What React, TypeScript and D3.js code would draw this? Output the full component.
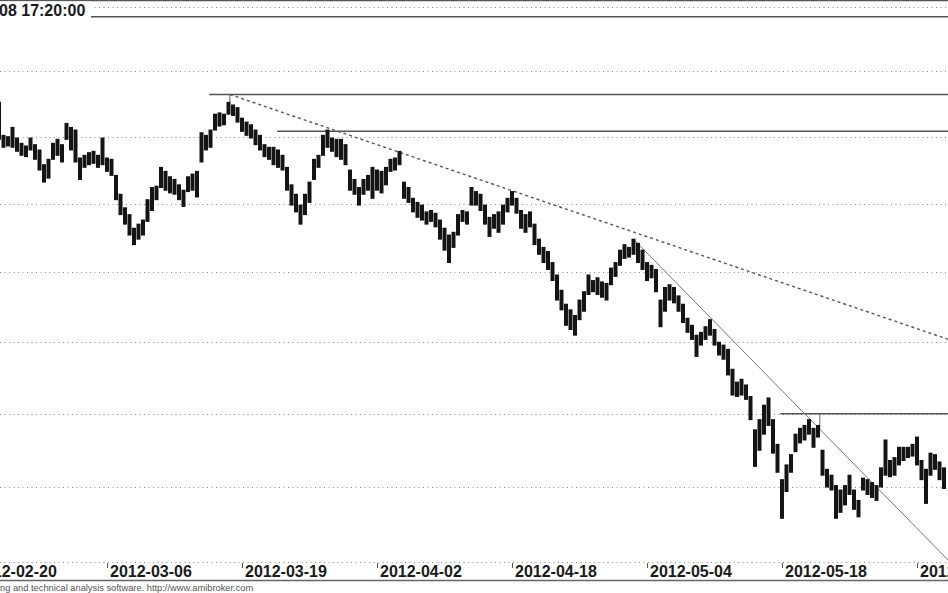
import React from 'react';
import * as d3 from 'd3';

const W = 948;
const H = 593;

// Intraday bars (3 per session), first visible bar index
const FIRST_BAR = 6;
const highs = [
  2426, 2401, 2400, 2407, 2399, 2395, 2393, 2399, 2394, 2390, 2379, 2383, 2395, 2398, 2394, 2410, 2407, 2405, 2384, 2386,
  2388, 2389, 2386, 2399, 2384, 2383, 2371, 2357, 2347, 2342, 2332, 2335, 2338, 2353, 2362, 2363, 2377, 2374, 2370, 2368,
  2364, 2360, 2370, 2372, 2374, 2403, 2401, 2405, 2417, 2418, 2417, 2426, 2424, 2422, 2414, 2411, 2409, 2405, 2401, 2394,
  2392, 2392, 2390, 2386, 2377, 2364, 2357, 2349, 2357, 2366, 2383, 2386, 2401, 2405, 2399, 2398, 2398, 2394, 2375, 2368,
  2362, 2368, 2371, 2377, 2375, 2374, 2377, 2383, 2384, 2389, 2366, 2362, 2354, 2351, 2349, 2344, 2345, 2343, 2338, 2332,
  2327, 2329, 2342, 2345, 2344, 2362, 2359, 2357, 2349, 2340, 2342, 2344, 2349, 2354, 2359, 2354, 2345, 2342, 2344, 2335,
  2324, 2318, 2315, 2307, 2298, 2287, 2277, 2273, 2269, 2280, 2286, 2298, 2294, 2296, 2293, 2292, 2303, 2307, 2316, 2320,
  2318, 2324, 2321, 2316, 2307, 2305, 2302, 2280, 2289, 2291, 2289, 2283, 2277, 2267, 2262, 2255, 2257, 2261, 2266, 2259,
  2250, 2248, 2245, 2231, 2222, 2224, 2220, 2212, 2189, 2196, 2206, 2211, 2196, 2179, 2155, 2165, 2172, 2186, 2190, 2192,
  2196, 2190, 2192, 2175, 2162, 2158, 2151, 2148, 2151, 2158, 2148, 2141, 2156, 2155, 2153, 2151, 2163, 2182, 2168, 2170,
  2177, 2177, 2177, 2179, 2184, 2168, 2162, 2173, 2172, 2167, 2163,
];
const lows = [
  2398, 2392, 2393, 2392, 2389, 2386, 2385, 2390, 2383, 2375, 2366, 2369, 2383, 2386, 2381, 2398, 2390, 2381, 2368, 2377,
  2379, 2380, 2377, 2379, 2374, 2371, 2353, 2342, 2335, 2327, 2320, 2324, 2327, 2337, 2345, 2353, 2362, 2360, 2358, 2357,
  2353, 2348, 2359, 2360, 2355, 2381, 2390, 2392, 2405, 2408, 2409, 2417, 2416, 2411, 2404, 2401, 2399, 2394, 2390, 2385,
  2383, 2379, 2377, 2375, 2360, 2349, 2344, 2335, 2342, 2351, 2368, 2377, 2386, 2392, 2389, 2385, 2383, 2379, 2360, 2357,
  2349, 2357, 2360, 2354, 2360, 2358, 2364, 2374, 2375, 2379, 2354, 2351, 2344, 2340, 2338, 2335, 2337, 2333, 2324, 2316,
  2307, 2318, 2327, 2337, 2335, 2349, 2349, 2345, 2335, 2326, 2332, 2329, 2335, 2344, 2349, 2343, 2332, 2329, 2333, 2320,
  2313, 2307, 2302, 2294, 2280, 2273, 2262, 2259, 2255, 2266, 2272, 2284, 2286, 2284, 2282, 2280, 2291, 2297, 2305, 2310,
  2311, 2313, 2307, 2302, 2294, 2296, 2286, 2261, 2272, 2280, 2278, 2272, 2264, 2257, 2252, 2240, 2248, 2252, 2255, 2248,
  2241, 2238, 2227, 2213, 2212, 2213, 2210, 2196, 2164, 2175, 2186, 2192, 2173, 2160, 2129, 2147, 2160, 2174, 2180, 2182,
  2186, 2177, 2184, 2158, 2150, 2148, 2129, 2133, 2138, 2145, 2135, 2130, 2148, 2145, 2143, 2141, 2150, 2158, 2157, 2158,
  2165, 2168, 2170, 2171, 2165, 2155, 2139, 2158, 2162, 2155, 2149,
];

const gridPrices = [2500, 2450, 2400, 2350, 2300, 2250, 2200, 2150, 2100];
const dateLabels = ['2012-02-20', '2012-03-06', '2012-03-19', '2012-04-02', '2012-04-18', '2012-05-04', '2012-05-18', '2012-06-01'];
const dateLabelBars = [0, 30, 60, 90, 120, 150, 180, 210];

// Drawn studies (bar index, price)
const levelPrices = [2492, 2432, 2404, 2200];
const levelStartBars = [-20, 52.7, 67.8, 179.6];
const markerBars = [57.3, 188.4];
const markerTopPrices = [2432, 2200];
const markerBottomPrices = [2426, 2189];
const dottedTrend = [[57.3, 2432], [217, 2252]];
const solidTrend = [[147.3, 2323], [217, 2101]];

const titleText = '08 17:20:00';
const footerText = 'ng and technical analysis software. http://www.amibroker.com';

export default function App() {
  const x = d3.scaleLinear().domain([0, 30]).range([-28, 107]);
  const y = d3.scaleLog().domain([2100, 2450]).range([562, 71]);
  const font = "'Liberation Sans', Arial, sans-serif";

  return (
    <svg width={W} height={H} style={{ position: 'absolute', left: 0, top: 0, background: '#fff' }}>
      <rect x={0} y={0} width={W} height={H} fill="#fff" />
      {gridPrices.map((p) => (
        <line key={p} x1={0} x2={W} y1={Math.round(y(p)) + 0.5} y2={Math.round(y(p)) + 0.5}
          stroke="#8a8a8a" strokeWidth={1} strokeDasharray="1 3.5" />
      ))}
      {levelPrices.map((p, i) => (
        <line key={'lv' + i} x1={x(levelStartBars[i])} x2={W} y1={y(p)} y2={y(p)} stroke="#555" strokeWidth={1.5} />
      ))}
      {markerBars.map((b, i) => (
        <line key={'mk' + i} x1={x(b)} x2={x(b)} y1={y(markerTopPrices[i])} y2={y(markerBottomPrices[i])} stroke="#666" strokeWidth={1} />
      ))}
      <line x1={x(dottedTrend[0][0])} y1={y(dottedTrend[0][1])} x2={x(dottedTrend[1][0])} y2={y(dottedTrend[1][1])}
        stroke="#555" strokeWidth={1.4} strokeDasharray="3 3" />
      <line x1={x(solidTrend[0][0])} y1={y(solidTrend[0][1])} x2={x(solidTrend[1][0])} y2={y(solidTrend[1][1])}
        stroke="#777" strokeWidth={1} />
      {highs.map((h, i) => {
        const bx = x(FIRST_BAR + i);
        return (
          <line key={'b' + i} x1={bx} x2={bx} y1={y(h) - 0.5} y2={y(lows[i]) + 0.5} stroke="#141414" strokeWidth={4} />
        );
      })}
      {/* title */}
      <line x1={0} x2={W} y1={0.5} y2={0.5} stroke="#555" strokeWidth={1.5} />
      <rect x={0} y={1.5} width={91} height={19} fill="#fff" />
      <text x={-1} y={16} fontFamily={font} fontWeight="bold" fontSize={16} fill="#1a1a1a">{titleText}</text>
      {/* date axis */}
      <rect x={0} y={563} width={W} height={30} fill="#fff" />
      {dateLabelBars.map((b, i) => (
        <g key={'dl' + i}>
          <line x1={x(b) + 0.5} x2={x(b) + 0.5} y1={563} y2={568} stroke="#555" strokeWidth={1} />
          <text x={x(b) + 3} y={577} fontFamily={font} fontWeight="bold" fontSize={16} fill="#1a1a1a">{dateLabels[i]}</text>
        </g>
      ))}
      <line x1={0} x2={W} y1={580.5} y2={580.5} stroke="#666" strokeWidth={1.5} />
      <text x={0} y={591} fontFamily={font} fontSize={9.3} fill="#555">{footerText}</text>
    </svg>
  );
}
